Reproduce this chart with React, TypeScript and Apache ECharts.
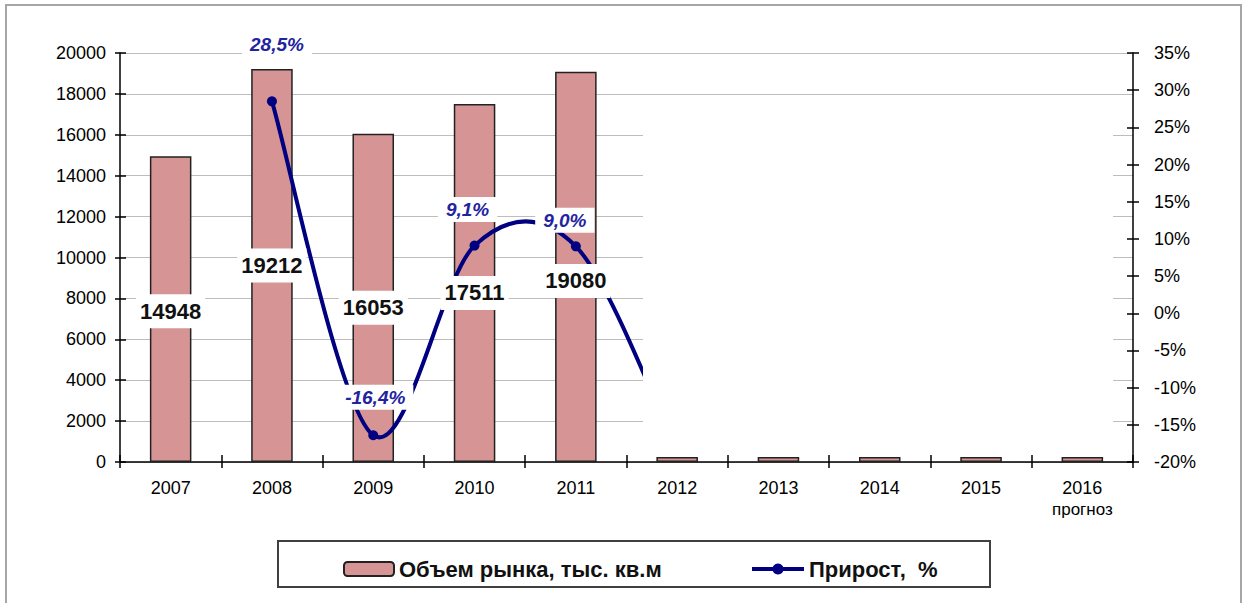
import React, { useEffect, useRef } from 'react';
import * as echarts from 'echarts';

// ---------- data ----------
const categories = ['2007', '2008', '2009', '2010', '2011', '2012', '2013', '2014', '2015', '2016'];
const forecastNote = 'прогноз';
const marketVolume = [14948, 19212, 16053, 17511, 19080, 250, 250, 250, 250, 250];
const growthPct: (number | null)[] = [null, 28.5, -16.4, 9.1, 9.0, -18.5, null, null, null, null];
const firstHiddenIndex = 5; // from 2012 on the picture is blanked out
const leftAxisTicks = { min: 0, max: 20000, interval: 2000 };
const rightAxisTicks = { min: -20, max: 35, interval: 5 };
const barName = 'Объем рынка, тыс. кв.м';
const lineName = 'Прирост, \u00a0%';

// ---------- layout (not data) ----------
const barLabelDy = [2, 0, 10, 10, 14];
const lineLabelOffset: ([number, number] | null)[] = [null, [5, -57], [2, -38], [-7, -36], [-11, -26]];

const FONT = '"Liberation Sans", Arial, sans-serif';
const BAR_COLOR = '#d69494';
const LINE_COLOR = '#000080';

export default function App() {
  const ref = useRef<HTMLDivElement>(null);

  useEffect(() => {
    if (!ref.current) return;
    const chart = echarts.init(ref.current, null, { renderer: 'svg' });

    const mainBars = marketVolume.map((v, i) => (i < firstHiddenIndex ? v : null));
    const hiddenBars = marketVolume.map((v, i) => (i >= firstHiddenIndex ? v : null));
    const labelBars = marketVolume.map((v, i) =>
      i < firstHiddenIndex ? { value: v, label: { offset: [0, barLabelDy[i]] } } : null
    );
    const lineData = growthPct.map((v, i) => {
      if (v === null) return null;
      const off = lineLabelOffset[i];
      if (!off) return { value: v, label: { show: false }, symbol: 'none' };
      return { value: v, label: { offset: off } };
    });

    // smooth (Catmull-Rom) curve through the growth points, drawn segment by segment
    const renderCurve = (params: any, api: any) => {
      const i = params.dataIndex;
      const pt = (k: number) =>
        k < 0 || k >= growthPct.length || growthPct[k] === null ? null : api.coord([k, growthPct[k]]);
      const p1 = pt(i);
      const p2 = pt(i + 1);
      if (!p1 || !p2) return null;
      const p0 = pt(i - 1) || p1;
      const p3 = pt(i + 2) || p2;
      return {
        type: 'bezierCurve',
        shape: {
          x1: p1[0],
          y1: p1[1],
          x2: p2[0],
          y2: p2[1],
          cpx1: p1[0] + (p2[0] - p0[0]) / 6,
          cpy1: p1[1] + (p2[1] - p0[1]) / 6,
          cpx2: p2[0] - (p3[0] - p1[0]) / 6,
          cpy2: p2[1] - (p3[1] - p1[1]) / 6,
        },
        style: { stroke: LINE_COLOR, lineWidth: 4, fill: 'none' },
      };
    };

    const axisTextStyle = { color: '#000', fontSize: 18, fontFamily: FONT };
    const blackLine = { show: true, onZero: false, lineStyle: { color: '#000', width: 1.5 } };
    const legendText = { fontSize: 22, fontWeight: 'bold', color: '#111', fontFamily: FONT };

    const option: any = {
      animation: false,
      backgroundColor: '#fff',
      textStyle: { fontFamily: FONT },
      grid: { left: 120, right: 117, top: 53, bottom: 141, containLabel: false },
      legend: [
        {
          data: [barName],
          left: 338,
          top: 553,
          itemWidth: 50,
          itemHeight: 14,
          selectedMode: false,
          textStyle: legendText,
        },
        {
          data: [
            {
              name: lineName,
              lineStyle: { color: LINE_COLOR, width: 4, opacity: 1 },
              itemStyle: { color: LINE_COLOR, opacity: 1 },
            },
          ],
          left: 745,
          top: 553,
          itemWidth: 52,
          itemHeight: 14,
          selectedMode: false,
          lineStyle: { color: LINE_COLOR, width: 4, opacity: 1 },
          textStyle: legendText,
        },
      ],
      xAxis: [
        {
          type: 'category',
          data: categories,
          position: 'bottom',
          axisLine: blackLine,
          axisTick: { show: true, inside: false, length: 6, lineStyle: { color: '#000', width: 1.5 } },
          axisLabel: {
            ...axisTextStyle,
            margin: 15,
            lineHeight: 22,
            interval: 0,
            formatter: (v: string) =>
              v === categories[categories.length - 1] ? `${v}\n{note|${forecastNote}}` : v,
            rich: { note: { fontSize: 17, lineHeight: 20, color: '#000', fontFamily: FONT } },
          },
          splitLine: { show: false },
        },
        {
          type: 'category',
          data: categories,
          position: 'bottom',
          z: 7,
          axisLine: { show: false, onZero: false },
          axisTick: { show: true, inside: true, length: 7, lineStyle: { color: '#000', width: 1.5 } },
          axisLabel: { show: false },
          splitLine: { show: false },
        },
      ],
      yAxis: [
        {
          type: 'value',
          position: 'left',
          ...leftAxisTicks,
          axisLine: blackLine,
          axisTick: { show: true, inside: false, length: 5, lineStyle: { color: '#000', width: 1.5 } },
          axisLabel: { ...axisTextStyle, margin: 14, formatter: (v: number) => String(v) },
          splitLine: { show: true, lineStyle: { color: '#bdbdbd', width: 1 } },
        },
        {
          type: 'value',
          position: 'right',
          ...rightAxisTicks,
          axisLine: blackLine,
          axisTick: { show: true, inside: false, length: 6, lineStyle: { color: '#000', width: 1.5 } },
          axisLabel: { ...axisTextStyle, margin: 21, formatter: '{value}%' },
          splitLine: { show: false },
        },
        {
          type: 'value',
          position: 'left',
          ...leftAxisTicks,
          z: 7,
          axisLine: { show: false, onZero: false },
          axisTick: { show: true, inside: true, length: 6, lineStyle: { color: '#000', width: 1.5 } },
          axisLabel: { show: false },
          splitLine: { show: false },
        },
        {
          type: 'value',
          position: 'right',
          ...rightAxisTicks,
          z: 7,
          axisLine: { show: false, onZero: false },
          axisTick: { show: true, inside: true, length: 6, lineStyle: { color: '#000', width: 1.5 } },
          axisLabel: { show: false },
          splitLine: { show: false },
        },
      ],
      series: [
        {
          name: barName,
          type: 'bar',
          data: mainBars,
          xAxisIndex: 0,
          yAxisIndex: 0,
          barWidth: '41%',
          barGap: '-100%',
          z: 2,
          itemStyle: { color: BAR_COLOR, borderColor: '#222', borderWidth: 1.5 },
          label: { show: false },
        },
        {
          name: 'growthCurve',
          type: 'custom',
          xAxisIndex: 0,
          yAxisIndex: 1,
          z: 3,
          clip: true,
          silent: true,
          data: growthPct.map((v, i) => [i, v]),
          renderItem: renderCurve,
        },
        {
          name: lineName,
          type: 'line',
          data: lineData,
          xAxisIndex: 0,
          yAxisIndex: 1,
          connectNulls: false,
          z: 4,
          symbol: 'circle',
          symbolSize: 10,
          showSymbol: true,
          lineStyle: { color: LINE_COLOR, width: 4, opacity: 0 },
          itemStyle: { color: LINE_COLOR },
          label: {
            show: true,
            position: 'inside',
            formatter: (p: any) => Number(p.value).toFixed(1).replace('.', ',') + '%',
            color: '#2323a0',
            fontSize: 19,
            fontStyle: 'italic',
            fontWeight: 'bold',
            fontFamily: FONT,
            backgroundColor: '#fff',
            padding: [3, 8],
          },
        },
        {
          name: 'labels',
          type: 'bar',
          data: labelBars,
          xAxisIndex: 0,
          yAxisIndex: 0,
          barWidth: '41%',
          barGap: '-100%',
          z: 4,
          silent: true,
          itemStyle: { color: 'rgba(0,0,0,0)' },
          label: {
            show: true,
            position: 'inside',
            color: '#111',
            fontSize: 22,
            fontWeight: 'bold',
            fontFamily: FONT,
            backgroundColor: '#fff',
            padding: [6, 4],
          },
        },
        {
          name: 'forecast',
          type: 'bar',
          data: hiddenBars,
          xAxisIndex: 0,
          yAxisIndex: 0,
          barWidth: '41%',
          barGap: '-100%',
          z: 6,
          itemStyle: { color: BAR_COLOR, borderColor: '#222', borderWidth: 1.5 },
          label: { show: false },
        },
      ],
      graphic: [
        {
          type: 'rect',
          z: 5,
          silent: true,
          shape: { x: 643, y: 105, width: 470, height: 356 },
          style: { fill: '#fff' },
        },
        {
          type: 'rect',
          z: 8,
          silent: true,
          shape: { x: 6, y: 5, width: 1235, height: 640 },
          style: { fill: 'none', stroke: '#a6a6a6', lineWidth: 2 },
        },
        {
          type: 'rect',
          z: 8,
          silent: true,
          shape: { x: 278, y: 541, width: 712, height: 46 },
          style: { fill: 'none', stroke: '#404040', lineWidth: 2 },
        },
      ],
    };

    chart.setOption(option);
    return () => chart.dispose();
  }, []);

  return (
    <div
      ref={ref}
      style={{ position: 'absolute', left: 0, top: 0, width: 1250, height: 603, background: '#fff' }}
    />
  );
}
